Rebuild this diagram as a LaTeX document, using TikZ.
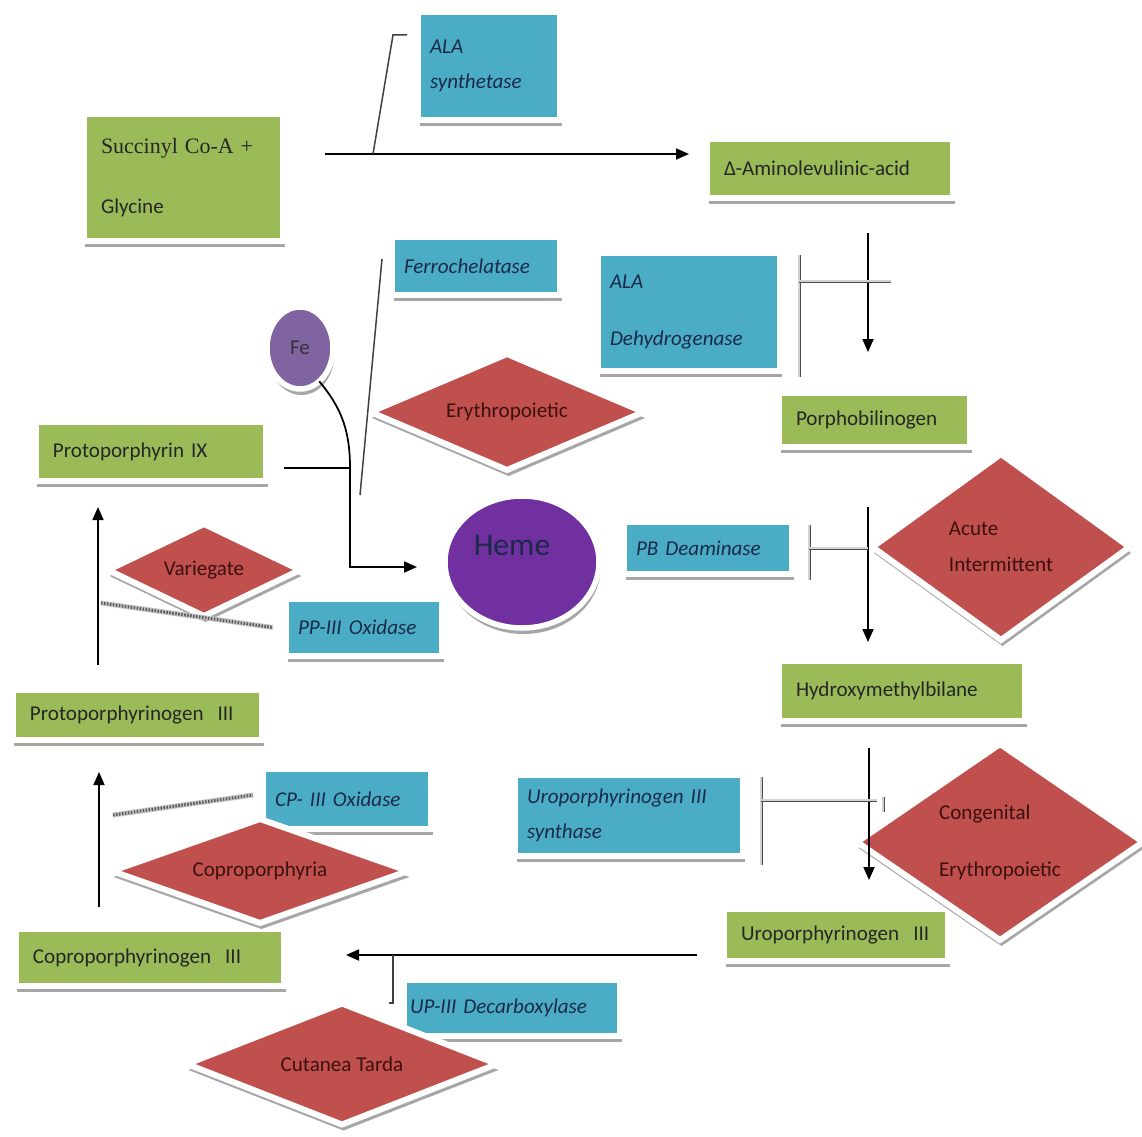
\documentclass[tikz,border=0pt]{standalone}
\usepackage{fontspec}
\setmainfont{Carlito}
\newfontfamily\timesfont{Liberation Serif}
\usetikzlibrary{shapes.geometric,arrows.meta,calc,shadows}

\definecolor{metabgreen}{HTML}{9BBB59}
\definecolor{enzblue}{HTML}{4BACC6}
\definecolor{porphred}{HTML}{C0504D}
\definecolor{fepurple}{HTML}{8064A2}
\definecolor{hemepurple}{HTML}{7030A0}
\definecolor{enztext}{HTML}{1B2A4A}
\definecolor{redtext}{HTML}{3D1010}

\tikzset{
  boxshadow/.style={general shadow={fill=gray!70, shadow xshift=0.3mm, shadow yshift=-1.2mm}},
  metab/.style={rectangle, fill=metabgreen, draw=white, line width=1.2mm, outer sep=0pt,
    boxshadow, inner xsep=3.4mm, inner ysep=0pt, align=left, text=black!85,
    font=\fontsize{12}{14.4}\selectfont},
  enzyme/.style={metab, fill=enzblue, inner xsep=2.4mm, text=enztext,
    font=\fontsize{12}{14.4}\selectfont\itshape},
  disease/.style={diamond, aspect=2.4, fill=porphred, draw=white, line width=1.2mm,
    outer sep=0pt, boxshadow, inner sep=0pt, align=center, text=redtext,
    font=\fontsize{12}{14.4}\selectfont},
  ball/.style={ellipse, draw=white, line width=1.1mm, outer sep=0pt, boxshadow, inner sep=0pt},
  flow/.style={line width=0.35mm, -{Triangle[length=2.6mm,width=2.2mm]}},
  enzline/.style={draw=black!75, line width=0.3mm},
  bracket/.style={draw=black!70, line width=0.15mm, double=gray!35, double distance=0.3mm},
  stripe/.style={draw=gray!45, line width=1mm,
    postaction={draw=gray!70!black, line width=0.6mm, dash pattern=on 0.3mm off 0.3mm}}
}

\begin{document}
\begin{tikzpicture}[x=0.2mm,y=-0.2mm]
\useasboundingbox (0,0) rectangle (1142,1136);

% metabolites
\node[metab, text width=33mm, minimum height=25.4mm] (succ) at (183.5,177.5)
  {{\timesfont\fontsize{12.5}{15}\selectfont Succinyl Co-A +}\\[6.9mm]Glycine};
\node[metab, text width=42.4mm, minimum height=11.8mm] (ala) at (830,168.5) {Δ-Aminolevulinic-acid};
\node[metab, text width=31.4mm, minimum height=10.8mm] (pbg) at (874.5,420) {Porphobilinogen};
\node[metab, text width=42.4mm, minimum height=12mm] (hmb) at (902,691) {Hydroxymethylbilane};
\node[metab, text width=38mm, minimum height=10.4mm] (urogen) at (836,935) {Uroporphyrinogen~~III};
\node[metab, text width=46.8mm, minimum height=11.4mm] (coprogen) at (150,957.5) {Coproporphyrinogen~~III};
\node[metab, text width=43mm, minimum height=10mm] (protogen) at (137.5,715) {Protoporphyrinogen~~III};
\node[metab, text width=39.2mm, minimum height=11.8mm] (ppix) at (151,451.5) {Protoporphyrin IX};

% enzymes
\node[enzyme, text width=23.6mm, minimum height=21.6mm] (alasyn) at (489,66) {ALA\\[2.1mm]synthetase};
\node[enzyme, text width=28.8mm, minimum height=11.6mm] (ferro) at (476,266) {Ferrochelatase};
\node[enzyme, text width=31.6mm, minimum height=23.6mm] (aladh) at (689,312) {ALA\\[6.5mm]Dehydrogenase};
\node[enzyme, text width=28.8mm, minimum height=10.4mm] (pbd) at (708,548) {PB Deaminase};
\node[enzyme, text width=26.4mm, minimum height=11.4mm] (ppox) at (364,627.5) {PP-III Oxidase};
\node[enzyme, text width=28.8mm, minimum height=12mm] (cpox) at (347,799) {CP- III Oxidase};
\node[enzyme, text width=40.8mm, minimum height=16.2mm] (urosyn) at (629,815.5) {Uroporphyrinogen III\\[1.9mm]synthase};
\node[enzyme, inner xsep=1.2mm, text width=40.8mm, minimum height=11.2mm] (updc) at (512,1008) {UP-III Decarboxylase};

% iron and heme
\node[ball, fill=fepurple, minimum width=13.2mm, minimum height=16.4mm,
  font=\fontsize{12}{14}\selectfont, text=black!80] (fe) at (300,348) {Fe};
\node[ball, fill=hemepurple, minimum width=30.8mm, minimum height=26.4mm] (heme) at (522,562) {};
\node[font=\fontsize{18}{20}\selectfont, text=enztext] (hemetxt) at ($(heme.center)+(-10,-17)$) {Heme};

% porphyrias
\node[disease, minimum width=54.6mm, minimum height=23.2mm] (eryth) at (507,412) {Erythropoietic};
\node[disease, minimum width=38.4mm, minimum height=18.4mm] (varieg) at (204,570) {Variegate};
\node[disease, aspect=1.4, align=left, minimum width=51.4mm, minimum height=37.2mm] (acute) at (1001,547)
  {Acute\\[2.1mm]Intermittent};
\node[disease, aspect=1.4, align=left, minimum width=57.2mm, minimum height=39.2mm] (congen) at (1000,842)
  {Congenital\\[6.3mm]Erythropoietic};
\node[disease, minimum width=59.2mm, minimum height=20.8mm] (coproph) at (260,871) {Coproporphyria};
\node[disease, minimum width=62mm, minimum height=24.2mm] (cutanea) at (342,1064) {Cutanea Tarda};

% main pathway
\draw[flow] ($(succ.east)+(42,-23.5)$) -- ($(ala.west)+(-18,-14.5)$);
\draw[flow] ($(ala.south)+(38,35)$) -- ($(pbg.north)+(-6.5,-41)$);
\draw[flow] ($(pbg.south)+(-6.5,60)$) -- ($(hmb.north)+(-34,-19)$);
\draw[flow] ($(hmb.south)+(-33,27)$) -- ($(urogen.north)+(33,-29)$);
\draw[flow] ($(urogen.west)+(-27,20)$) -- ($(coprogen.east)+(62,-2.5)$);
\draw[flow] ($(coprogen.north)+(-51,-22)$) -- ($(protogen.south)+(-38.5,32)$);
\draw[flow] ($(protogen.north)+(-39.5,-25)$) -- ($(ppix.south)+(-53,26)$);

% iron joins protoporphyrin
\coordinate (fejoin) at ($(ppix.east)+(84,16.5)$);
\draw[line width=0.35mm] ($(ppix.east)+(18,16.5)$) -- (fejoin);
\draw[flow] (fe.-60) to[out=-50,in=90] (fejoin) |- ($(heme.west)+(-28,5)$);

% enzyme links
\draw[enzline] ($(succ.east)+(90,-23.5)$) -- ($(alasyn.west)+(-25,-31)$) -- ($(alasyn.west)+(-11,-31)$);
\draw[enzline] ($(ferro.west)+(-10,-7)$) -- ($(ferro.west)+(-32,229)$);
\draw[bracket] ($(aladh.east)+(19,-57)$) -- ($(aladh.east)+(19,65)$);
\draw[bracket] ($(aladh.east)+(19,-31)$) -- ($(aladh.east)+(111,-31)$);
\draw[bracket] ($(pbd.east)+(17,-23)$) -- ($(pbd.east)+(17,32)$);
\draw[bracket] ($(pbd.east)+(17,0)$) -- ($(pbd.east)+(76,0)$);
\draw[bracket] ($(urosyn.east)+(18,-38.5)$) -- ($(urosyn.east)+(18,49.5)$);
\draw[bracket] ($(urosyn.east)+(18,-15.5)$) -- ($(urosyn.east)+(134,-15.5)$);
\draw[bracket] ($(urosyn.east)+(140,-18.5)$) -- ($(urosyn.east)+(140,-3.5)$);
\draw[stripe] ($(ppox.west)+(-185,-24.5)$) -- ($(ppox.west)+(-13,0)$);
\draw[stripe] ($(cpox.west)+(-150,16)$) -- ($(cpox.west)+(-10,-4)$);
\draw[enzline] ($(updc.west)+(-11,-53)$) -- ($(updc.west)+(-11,-5)$) -- ($(updc.west)+(-15,-5)$);
\end{tikzpicture}
\end{document}
